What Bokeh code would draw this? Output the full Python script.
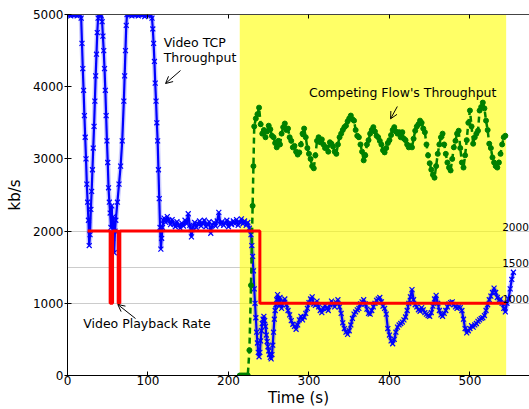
from bokeh.plotting import figure
from bokeh.models import Range1d, LinearAxis, FixedTicker, BoxAnnotation, Label, Arrow, OpenHead
from bokeh.embed import file_html
from bokeh.resources import INLINE

FONT = "DejaVu Sans"

# Video TCP throughput (kb/s) over time (s)
blue_t = [
    0, 2, 4, 6, 8, 10, 12, 14, 16, 17,
    18, 19, 20, 21, 22, 23, 24, 25, 26, 27,
    28, 29, 30, 31, 32, 33, 34, 35, 36, 37,
    38, 39, 40, 41, 42, 43, 44, 45, 46, 47,
    48, 49, 50, 51, 52, 53, 54, 55, 56, 57,
    58, 59, 60, 62, 64, 66, 68, 70, 71, 72,
    73, 74, 76, 78, 80, 82, 84, 86, 88, 90,
    92, 94, 96, 98, 100, 102, 104, 105, 106, 107,
    108, 109, 110, 111, 112, 113, 114, 115, 116, 117,
    118, 119, 120, 122, 124, 126, 128, 130, 132, 134,
    136, 138, 140, 142, 144, 146, 148, 150, 152, 154,
    156, 158, 160, 162, 164, 166, 168, 170, 172, 174,
    176, 178, 180, 182, 184, 186, 188, 190, 192, 194,
    196, 198, 200, 202, 204, 206, 208, 210, 212, 214,
    216, 218, 220, 222, 224, 226, 228, 229, 230, 231,
    232, 233, 234, 235, 236, 237, 238, 239, 240, 241,
    242, 243, 244, 245, 246, 247, 248, 249, 250, 251,
    252, 253, 254, 255, 256, 257, 258, 259, 260, 261,
    262, 263, 264, 265, 266, 268, 270, 272, 274, 276,
    278, 280, 282, 284, 286, 288, 290, 292, 294, 296,
    298, 300, 302, 304, 306, 308, 310, 312, 314, 316,
    318, 320, 322, 324, 326, 328, 330, 332, 334, 336,
    338, 340, 342, 344, 346, 348, 350, 352, 354, 356,
    358, 360, 362, 364, 366, 368, 370, 372, 374, 376,
    378, 380, 382, 384, 386, 388, 390, 392, 394, 396,
    398, 400, 402, 404, 406, 408, 410, 412, 414, 416,
    418, 420, 422, 424, 426, 428, 430, 432, 434, 436,
    438, 440, 442, 444, 446, 448, 450, 452, 454, 456,
    458, 460, 462, 464, 466, 468, 470, 472, 474, 476,
    478, 480, 482, 484, 486, 488, 490, 492, 494, 496,
    498, 500, 502, 504, 506, 508, 510, 512, 514, 516,
    518, 520, 522, 524, 526, 528, 530, 532, 534, 536,
    538, 540, 542, 544, 546, 548, 550, 552, 554,
]
blue_kbps = [
    4990, 5000, 4980, 5000, 4990, 5000, 4980, 5000, 4990, 4950,
    4600, 4250, 3950, 3600, 3300, 3000, 2650, 2400, 2150, 1800,
    1950, 2300, 2550, 2850, 3150, 3450, 3800, 4150, 4450, 4750,
    4950, 5000, 4990, 5000, 4980, 4900, 4700, 4500, 4250, 3950,
    3600, 3250, 2950, 2600, 2400, 2250, 2050, 2350, 1900, 2200,
    1700, 2000, 2150, 2400, 2650, 2900, 3250, 3800, 4150, 4500,
    4850, 5000, 4990, 5000, 4980, 5000, 4990, 5000, 4980, 5000,
    4990, 5000, 4970, 5000, 4990, 5000, 4980, 4950, 4800, 4600,
    4350, 4050, 3800, 3500, 3250, 2850, 2450, 2050, 1750, 1900,
    2050, 2150, 2180, 2120, 2200, 2150, 2090, 2160, 2100, 2060,
    2130, 2080, 2040, 2110, 2070, 2150, 2100, 2240, 2080, 1920,
    2060, 2120, 2050, 2100, 2140, 2070, 2110, 2150, 2060, 2090,
    2130, 1970, 2080, 2120, 2070, 2140, 2260, 2090, 2130, 2080,
    2110, 2150, 2060, 2120, 2090, 2140, 2100, 2160, 2080, 2120,
    2170, 2100, 2140, 2080, 2120, 2040, 1950, 1800, 1650, 1450,
    1200, 1000, 800, 600, 450, 320, 260, 320, 480, 620,
    720, 780, 820, 760, 680, 560, 470, 400, 340, 290,
    250, 230, 290, 420, 600, 780, 900, 980, 1050, 1120,
    1050, 960, 1080, 1000, 930, 1020, 1060, 980, 900, 840,
    760, 710, 680, 640, 700, 770, 820, 770, 810, 860,
    930, 1010, 1060, 1090, 990, 970, 1030, 950, 900, 870,
    930, 970, 930, 900, 980, 1030, 990, 950, 1010, 1050,
    950, 860, 730, 650, 600, 570, 620, 700, 790, 850,
    880, 910, 930, 990, 1020, 1050, 990, 920, 860, 850,
    900, 950, 1000, 1040, 1060, 1080, 1020, 960, 930, 850,
    650, 560, 480, 440, 500, 600, 670, 700, 720, 740,
    770, 810, 900, 1000, 1090, 1190, 1050, 980, 950, 910,
    890, 940, 910, 870, 850, 830, 820, 870, 960, 1060,
    1110, 1000, 900, 840, 820, 860, 900, 950, 990, 1010,
    1020, 980, 950, 930, 950, 940, 900, 780, 650, 590,
    620, 650, 690, 670, 700, 720, 750, 770, 790, 800,
    830, 900, 980, 1050, 1100, 1150, 1210, 1150, 1080, 1040,
    1060, 1000, 930, 880, 1000, 1060, 1200, 1330, 1430,
]

# Competing flow's throughput (kb/s)
green_t = [
    214, 216, 218, 220, 222, 224, 226, 228, 230, 231,
    232, 234, 236, 238, 240, 242, 244, 246, 248, 250,
    252, 254, 256, 258, 260, 262, 264, 266, 268, 270,
    272, 274, 276, 278, 280, 282, 284, 286, 288, 290,
    292, 294, 296, 298, 300, 302, 304, 306, 308, 310,
    312, 314, 316, 318, 320, 322, 324, 326, 328, 330,
    332, 334, 336, 338, 340, 342, 344, 346, 348, 350,
    352, 354, 356, 358, 360, 362, 364, 366, 368, 370,
    372, 374, 376, 378, 380, 382, 384, 386, 388, 390,
    392, 394, 396, 398, 400, 402, 404, 406, 408, 410,
    412, 414, 416, 418, 420, 422, 424, 426, 428, 430,
    432, 434, 436, 438, 440, 442, 444, 446, 448, 450,
    452, 454, 456, 458, 460, 462, 464, 466, 468, 470,
    472, 474, 476, 478, 480, 482, 484, 486, 488, 490,
    492, 494, 496, 498, 500, 502, 504, 506, 508, 510,
    512, 514, 516, 518, 520, 522, 524, 526, 528, 530,
    532, 534, 536, 538, 540, 542, 544,
]
green_kbps = [
    0, 0, 0, 0, 0, 0, 350, 1250, 2350, 2900,
    3450, 3560, 3620, 3710, 3480, 3350, 3400, 3300, 3380, 3460,
    3410, 3320, 3300, 3220, 3160, 3250, 3200, 3350, 3440, 3490,
    3400, 3420, 3300, 3250, 3160, 3180, 3100, 3060, 3090, 3200,
    3350, 3420, 3300, 3150, 3070, 3000, 2900, 2870, 3050, 3250,
    3300, 3230, 3270, 3200, 3150, 3160, 3100, 3230, 3210, 3170,
    3100, 3070, 3200, 3300, 3350, 3400, 3440, 3460, 3520, 3560,
    3600, 3550, 3530, 3400, 3320, 3300, 3200, 3100, 2980, 3050,
    3200, 3260, 3350, 3400, 3440, 3380, 3320, 3300, 3250, 3200,
    3120, 3090, 3150, 3220, 3260, 3330, 3400, 3440, 3380, 3350,
    3370, 3300, 3370, 3280, 3260, 3200, 3160, 3180, 3160, 3280,
    3390, 3450, 3480, 3530, 3500, 3420, 3370, 3200, 3050, 2940,
    2850, 2780, 2740, 2900, 3070, 3200, 3300, 3350, 3200, 3070,
    2950, 2880, 2840, 3000, 3160, 3250, 3350, 3390, 3150, 2950,
    2880, 3050, 3260, 3500, 3670, 3450, 3210, 3300, 3350, 3390,
    3670, 3720, 3780, 3700, 3530, 3400, 3210, 3150, 3020, 2950,
    2900, 2880, 2950, 3070, 3200, 3300, 3320,
]

# Video playback rate (kb/s), step function
rate_t = [25, 53, 53, 56, 56, 63, 63, 65, 65, 239, 239, 545]
rate_kbps = [2000, 2000, 1000, 1000, 2000, 2000, 1000, 1000, 2000, 2000, 1000, 1000]

x_ticks = [0, 100, 200, 300, 400, 500]
y_ticks = [0, 1000, 2000, 3000, 4000, 5000]
grid_levels = [1000, 1500, 2000]
grid_labels = ["1000", "1500", "2000"]
shade_start, shade_end = 214, 545

p = figure(width=529, height=409, x_range=Range1d(0, 574), y_range=Range1d(0, 5000),
           output_backend="svg", toolbar_location=None,
           min_border_left=67, min_border_right=0, min_border_top=14, min_border_bottom=34)
p.outline_line_color = None
p.background_fill_color = "white"
p.border_fill_color = "white"

p.xgrid.visible = False
p.ygrid.ticker = FixedTicker(ticks=grid_levels)
p.ygrid.grid_line_color = "#cccccc"
p.ygrid.grid_line_width = 1

shade = BoxAnnotation(left=shade_start, right=shade_end, fill_color="yellow", fill_alpha=0.6,
                      line_color=None, level="underlay")
p.add_layout(shade)

# axes
xa = p.xaxis[0]
xa.ticker = FixedTicker(ticks=x_ticks)
xa.major_tick_in = 4
xa.major_tick_out = 0
xa.minor_tick_line_color = None
xa.major_label_standoff = 0
xa.axis_label = "Time (s)"
xa.axis_label_standoff = 1
xa.axis_label_text_font = FONT
xa.axis_label_text_font_size = "15px"
xa.axis_label_text_font_style = "normal"
xa.axis_label_text_color = "black"
xa.major_label_text_font = FONT
xa.major_label_text_font_size = "12px"
xa.major_label_text_color = "black"
xa.axis_line_color = "black"
xa.major_tick_line_color = "black"

ya = p.yaxis[0]
ya.ticker = FixedTicker(ticks=y_ticks)
ya.major_tick_in = 4
ya.major_tick_out = 3
ya.minor_tick_line_color = None
ya.major_label_standoff = 1
ya.axis_label = "kb/s"
ya.axis_label_standoff = 6
ya.axis_label_text_font = FONT
ya.axis_label_text_font_size = "15px"
ya.axis_label_text_font_style = "normal"
ya.axis_label_text_color = "black"
ya.major_label_text_font = FONT
ya.major_label_text_font_size = "12px"
ya.major_label_text_color = "black"
ya.axis_line_color = "black"
ya.major_tick_line_color = "black"

top = LinearAxis(ticker=FixedTicker(ticks=x_ticks), major_label_text_font_size="1px",
                 major_label_text_color=None, major_label_text_alpha=0,
                 major_tick_in=4, major_tick_out=0, major_label_standoff=0,
                 minor_tick_line_color=None, axis_line_color="#444444",
                 major_tick_line_color="black")
p.add_layout(top, "above")

# data
p.line(blue_t, blue_kbps, line_color="blue", line_width=5, line_alpha=0.2)
p.line(blue_t, blue_kbps, line_color="blue", line_width=2.2)
p.scatter(blue_t, blue_kbps, marker="x", size=7, line_color="blue", line_width=1.2)

p.line(green_t, green_kbps, line_color="#008000", line_width=2.5, line_dash="6 4")
p.scatter(green_t, green_kbps, marker="circle", size=5, fill_color="#008000", line_color="#008000")

p.line(rate_t, rate_kbps, line_color="red", line_width=3)

# annotations
def lab(x, y, t, size="12.5px", **kw):
    p.add_layout(Label(x=x, y=y, text=t, text_font=FONT, text_font_size=size,
                       text_color="black", **kw))

lab(119.5, 4515, "Video TCP")
lab(119.5, 4307, "Throughput")
lab(300, 3816, "Competing Flow's Throughput")
lab(19.5, 623, "Video Playback Rate")
for lvl, txt in zip(grid_levels, grid_labels):
    lab(540, lvl, txt, size="10.5px")

for (x0, y0, x1, y1) in [(140.4, 4224, 121.8, 4044), (409.8, 3726, 401.4, 3555), (84.5, 789, 62.5, 983)]:
    p.add_layout(Arrow(x_start=x0, y_start=y0, x_end=x1, y_end=y1, line_width=1, line_color="black",
                       end=OpenHead(size=7, line_width=1, line_color="black")))

open("out.html", "w").write(file_html(p, INLINE))
